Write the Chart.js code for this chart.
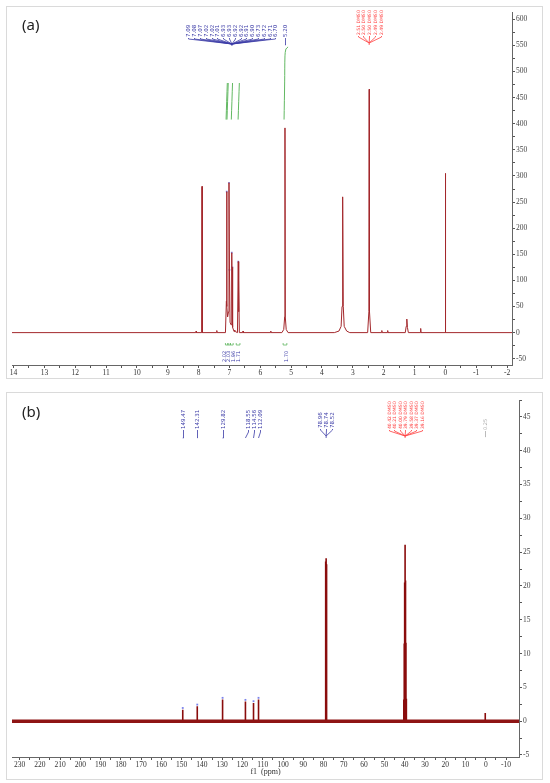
<!DOCTYPE html>
<html>
<head>
<meta charset="utf-8">
<script src="https://cdn.jsdelivr.net/npm/chart.js@4.4.1/dist/chart.umd.min.js"></script>
<style>
  body { margin: 0; background: #fff; width: 550px; height: 783px; position: relative; overflow: hidden; font-family: "Noto Sans", sans-serif; }
  .panel { position: absolute; left: 6px; width: 535px; border: 1px solid #dadada; background: #fff; }
  #pa { top: 6px; height: 371px; }
  #pb { top: 392px; height: 386px; }
  .panel canvas { position: absolute; left: 0; top: 0; }
  .tag { position: absolute; left: 15px; font-size: 15px; line-height: 1; color: #222; }
</style>
</head>
<body>
<div class="panel" id="pa"><canvas id="specH" width="535" height="371"></canvas><div class="tag" style="top:10px">(a)</div></div>
<div class="panel" id="pb"><canvas id="specC" width="535" height="386"></canvas><div class="tag" style="top:11px">(b)</div></div>

<script>
// ---- 1H (panel a): desplazamiento (ppm) / intensidad ----
const hPpm = [14.05, 8.09, 8.08, 8.07, 7.90, 7.89, 7.88, 7.42, 7.41, 7.40,
  7.13, 7.10, 7.09, 7.08, 7.06, 7.03, 7.015, 7.00, 6.98, 6.95, 6.925, 6.915, 6.905, 6.89,
  6.85, 6.83, 6.81, 6.74, 6.715, 6.705, 6.695, 6.68, 6.57, 6.56, 6.55, 5.67, 5.66, 5.65,
  5.30, 5.24, 5.21, 5.20, 5.19, 5.16, 5.10, 3.60, 3.45, 3.38, 3.35, 3.33, 3.31, 3.28, 3.20, 3.10,
  2.52, 2.48, 2.47, 2.46, 2.42, 2.07, 2.06, 2.05, 1.88, 1.87, 1.86,
  1.30, 1.27, 1.25, 1.23, 1.20, 0.81, 0.80, 0.79, 0.01, 0.00, -0.01, -2.16];
const hInt = [0, 0, 3, 0, 0, 280, 0, 0, 4, 0,
  0, 60, 270, 50, 30, 40, 287, 120, 20, 15, 153, 60, 125, 10,
  2, 5, 2, 0, 136, 40, 100, 0, 0, 3, 0, 0, 3, 0,
  0, 6, 30, 392, 30, 6, 0, 0, 3, 12, 50, 260, 50, 12, 3, 0,
  0, 40, 466, 40, 0, 0, 4, 0, 0, 4, 0,
  0, 12, 26, 10, 0, 0, 8, 0, 0, 305, 0, 0];
const hPicosPpm = [7.09, 7.015, 7.00, 6.925, 6.905, 6.715];
const hPicosInt = [270, 287, 120, 153, 125, 136];

// curvas de integración
const hIntPpm = [[7.11, 7.07], [7.08, 7.04], [6.94, 6.90], [6.72, 6.68], [5.23, 5.21, 5.20, 5.17, 5.10]];
const hIntVal = [[408, 478], [408, 478], [408, 478], [408, 478], [408, 480, 530, 543, 547]];
const hIntZonas = [[7.13, 7.05], [7.05, 6.97], [6.97, 6.88], [6.78, 6.66], [5.26, 5.14]];

// etiquetas
const hLabAr = ['7.09', '7.08', '7.07', '7.02', '7.02', '7.01', '6.93', '6.93', '6.92', '6.92', '6.91', '6.90', '6.73', '6.72', '6.71', '6.70'];
const hLabCH2 = ['5.20'];
const hLabDmso = ['2.51 DMSO', '2.50 DMSO', '2.50 DMSO', '2.49 DMSO', '2.49 DMSO'];
const hIntTxt = ['2.02', '2.03', '1.96', '1.71'];
const hIntTxtCH2 = ['1.70'];

const hXTicks = [14, 13, 12, 11, 10, 9, 8, 7, 6, 5, 4, 3, 2, 1, 0, -1, -2];
const hYTicks = [-50, 0, 50, 100, 150, 200, 250, 300, 350, 400, 450, 500, 550, 600];

// ---- 13C (panel b) ----
const cPpm = [149.47, 142.31, 129.82, 118.55, 114.56, 112.09, 78.96, 78.74, 78.52,
  40.42, 40.21, 40.00, 39.79, 39.58, 39.37, 39.16, 0.25];
const cInt = [1.7, 2.2, 3.2, 2.9, 2.7, 3.2, 23.6, 24.1, 23.2,
  3.2, 11.5, 20.5, 26.1, 20.8, 11.6, 3.3, 1.2];
const cLabAr = ['118.55', '114.56', '112.09'];
const cLabCdcl = ['78.96', '78.74', '78.52'];
const cLabDmso = ['40.42 DMSO', '40.21 DMSO', '40.00 DMSO', '39.79 DMSO', '39.58 DMSO', '39.37 DMSO', '39.16 DMSO'];

const cXTicks = [230, 220, 210, 200, 190, 180, 170, 160, 150, 140, 130, 120, 110, 100, 90, 80, 70, 60, 50, 40, 30, 20, 10, 0, -10];
const cYTicks = [-5, 0, 5, 10, 15, 20, 25, 30, 35, 40, 45];

// Dibuja etiquetas verticales de picos, abanicos e integrales
const pluginEtiquetas = {
  id: 'etiquetas',
  afterDatasetsDraw(chart, args, opts) {
    const ctx = chart.ctx;
    const xs = chart.scales.x;
    ctx.save();
    (opts.grupos || []).forEach(g => {
      const n = g.textos.length;
      const centro = xs.getPixelForValue(g.centro);
      ctx.font = g.tam + 'px "DejaVu Sans", sans-serif';
      ctx.fillStyle = g.color;
      ctx.strokeStyle = g.color;
      ctx.lineWidth = 0.8;
      g.textos.forEach((t, i) => {
        const lx = Math.round(centro + (i - (n - 1) / 2) * (g.paso || 0)) + 0.5;
        ctx.save();
        ctx.translate(lx, g.base);
        ctx.rotate(-Math.PI / 2);
        ctx.textAlign = 'left';
        ctx.textBaseline = 'middle';
        ctx.fillText(t, 0, 0);
        ctx.restore();
        if (g.sinLinea) return;
        const destino = g.destinos ? xs.getPixelForValue(g.destinos[i]) : centro;
        ctx.beginPath();
        ctx.moveTo(lx, g.base + 1);
        ctx.lineTo(lx, g.tallo);
        ctx.lineTo(destino, g.union);
        ctx.stroke();
      });
      if (g.punta) {
        ctx.beginPath();
        ctx.moveTo(centro, g.union);
        ctx.lineTo(centro, g.union + g.punta);
        ctx.stroke();
      }
    });
    (opts.corchetes || []).forEach(c => {
      ctx.strokeStyle = c.color;
      ctx.lineWidth = 0.8;
      c.zonas.forEach(([a, b]) => {
        const x1 = xs.getPixelForValue(a), x2 = xs.getPixelForValue(b);
        ctx.beginPath();
        ctx.moveTo(x1, c.y - 2);
        ctx.lineTo(x1, c.y);
        ctx.lineTo(x2, c.y);
        ctx.lineTo(x2, c.y - 2);
        ctx.stroke();
      });
    });
    ctx.restore();
  }
};

function conMenores(lista, paso, min, max) {
  return lista.flatMap(v => [v, v + paso / 2]).filter(v => v >= min && v <= max);
}

function opcionesEspectro(p) {
  const fuente = { family: '"Liberation Serif", "DejaVu Serif", serif', size: 7.5 };
  return {
    responsive: false,
    animation: false,
    events: [],
    layout: { padding: p.padding },
    plugins: { legend: { display: false }, tooltip: { enabled: false }, etiquetas: p.etiquetas },
    scales: {
      x: {
        type: 'linear', reverse: true, min: p.xMin, max: p.xMax,
        afterBuildTicks: s => { s.ticks = conMenores(p.xTicks, p.xPaso, p.xMin, p.xMax).map(v => ({ value: v })); },
        afterFit: s => { s.height = p.altoX; },
        ticks: { autoSkip: false, maxRotation: 0, padding: 1, color: '#333', font: fuente,
          callback: v => (v % p.xPaso === 0 ? String(v) : '') },
        grid: { drawOnChartArea: false, tickLength: 3, color: '#555' },
        border: { color: '#666' },
        title: p.tituloX
          ? { display: true, text: p.tituloX, padding: { top: 0, bottom: 2 }, color: '#333', font: { family: fuente.family, size: 8 } }
          : { display: false }
      },
      y: {
        position: 'right', min: p.yMin, max: p.yMax,
        afterBuildTicks: s => { s.ticks = conMenores(p.yTicks, p.yPaso, p.yMin, p.yMax).map(v => ({ value: v })); },
        afterFit: s => { s.width = p.anchoY; },
        ticks: { autoSkip: false, padding: 1, color: '#444', font: fuente,
          callback: v => (v % p.yPaso === 0 ? String(v) : '') },
        grid: { drawOnChartArea: false, tickLength: 3, color: '#555' },
        border: { color: '#666' }
      }
    }
  };
}

const AZUL = '#3a3aa6', ROJO = '#ff4040', VERDE = '#62b862', GRIS = '#aaaaaa';

// ---- Panel a ----
const dsH = [{
  data: hPpm.map((p, i) => ({ x: p, y: hInt[i] })),
  borderColor: '#a3282c', borderWidth: 1, pointRadius: 0, tension: 0
}, {
  data: hPicosPpm.map((p, i) => ({ x: p, y: hPicosInt[i] })),
  showLine: false, pointStyle: 'rect', pointRadius: 1.2,
  pointBackgroundColor: 'rgba(90,100,230,0.75)', pointBorderWidth: 0
}].concat(hIntPpm.map((ppm, k) => ({
  data: ppm.map((p, i) => ({ x: p, y: hIntVal[k][i] })),
  borderColor: VERDE, borderWidth: 1, pointRadius: 0, tension: 0.3
})));

new Chart(document.getElementById('specH'), {
  type: 'line',
  data: { datasets: dsH },
  plugins: [pluginEtiquetas],
  options: opcionesEspectro({
    padding: { left: 5, right: 4, top: 5, bottom: 0 },
    xMin: -2.16, xMax: 14.05, xTicks: hXTicks, xPaso: 1, altoX: 13,
    yMin: -62, yMax: 613, yTicks: hYTicks, yPaso: 50, anchoY: 26,
    etiquetas: {
      grupos: [
        { textos: hLabAr, centro: 6.92, paso: 5.8, base: 30, tallo: 32, union: 37, punta: 2, color: AZUL, tam: 5.5 },
        { textos: hLabCH2, centro: 5.20, base: 30, tallo: 38, union: 38, color: AZUL, tam: 5.5 },
        { textos: hLabDmso, centro: 2.47, paso: 5.75, base: 28, tallo: 30, union: 36, punta: 2, color: ROJO, tam: 4.5 },
        { textos: hIntTxt, centro: 6.96, paso: 4.6, base: 355, sinLinea: true, color: AZUL, tam: 5 },
        { textos: hIntTxtCH2, centro: 5.16, base: 355, sinLinea: true, color: AZUL, tam: 5 }
      ],
      corchetes: [{ zonas: hIntZonas, y: 338, color: VERDE }]
    }
  })
});

// ---- Panel b ----
const picosC = cPpm.flatMap((p, i) => [{ x: p, y: 0 }, { x: p, y: cInt[i] }, { x: p, y: null }]);
new Chart(document.getElementById('specC'), {
  type: 'line',
  data: {
    datasets: [{
      data: [{ x: 233.7, y: 0 }, { x: -16.4, y: 0 }],
      borderColor: '#8e1414', borderWidth: 3.5, pointRadius: 0
    }, {
      data: picosC,
      borderColor: '#8a0c0c', borderWidth: 1.6, pointRadius: 0, spanGaps: false
    }, {
      data: cPpm.slice(0, 6).map((p, i) => ({ x: p, y: cInt[i] + 0.25 })),
      showLine: false, pointStyle: 'rect', pointRadius: 1.3,
      pointBackgroundColor: 'rgba(90,100,230,0.8)', pointBorderWidth: 0
    }]
  },
  plugins: [pluginEtiquetas],
  options: opcionesEspectro({
    padding: { left: 5, right: 3, top: 7, bottom: 0 },
    xMin: -16.4, xMax: 233.7, xTicks: cXTicks, xPaso: 10, altoX: 22, tituloX: 'f1  (ppm)',
    yMin: -5.3, yMax: 47.5, yTicks: cYTicks, yPaso: 5, anchoY: 20,
    etiquetas: {
      grupos: [
        { textos: [cPpm[0].toFixed(2)], centro: cPpm[0], base: 36, tallo: 45, union: 45, color: AZUL, tam: 5.5 },
        { textos: [cPpm[1].toFixed(2)], centro: cPpm[1], base: 36, tallo: 45, union: 45, color: AZUL, tam: 5.5 },
        { textos: [cPpm[2].toFixed(2)], centro: cPpm[2], base: 36, tallo: 45, union: 45, color: AZUL, tam: 5.5 },
        { textos: cLabAr, centro: 114.56, paso: 6, destinos: cPpm.slice(3, 6), base: 36, tallo: 39, union: 45, color: AZUL, tam: 5.5 },
        { textos: cLabCdcl, centro: 78.74, paso: 6, base: 35, tallo: 37, union: 43, punta: 2, color: AZUL, tam: 5.5 },
        { textos: cLabDmso, centro: 39.79, paso: 5.5, base: 36, tallo: 38, union: 43, punta: 2, color: ROJO, tam: 4.5 },
        { textos: [cPpm[16].toFixed(2)], centro: 0.25, base: 37, tallo: 44, union: 44, color: GRIS, tam: 5 }
      ]
    }
  })
});
</script>
</body>
</html>
